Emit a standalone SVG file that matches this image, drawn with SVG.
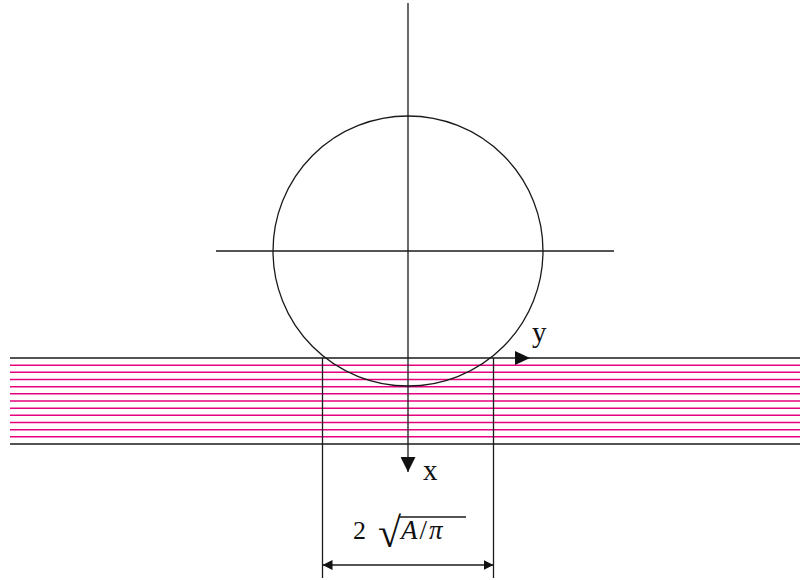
<svg xmlns="http://www.w3.org/2000/svg" width="800" height="580" viewBox="0 0 800 580">
<style>
.k{stroke:#1a1a1a;stroke-width:1.3;fill:none}
.m{stroke:#e6007e;stroke-width:1.5;fill:none}
.t{font-family:"Liberation Serif","DejaVu Serif",serif;font-size:29px;fill:#111}
.i{font-style:italic}
</style>
<defs>
<marker id="ah" viewBox="0 0 10 10" refX="10" refY="5" markerWidth="10" markerHeight="10" markerUnits="userSpaceOnUse" orient="auto-start-reverse">
<path d="M0,0 L10,5 L0,10 z" fill="#111"/>
</marker>
<marker id="big" viewBox="0 0 10 10" refX="10" refY="5" markerWidth="15" markerHeight="15" markerUnits="userSpaceOnUse" orient="auto">
<path d="M0,0 L10,5 L0,10 z" fill="#111"/>
</marker>
</defs>
<g id="strip">
<g class="m">
<line x1="10" y1="365.2" x2="800" y2="365.2"/>
<line x1="10" y1="372.3" x2="800" y2="372.3"/>
<line x1="10" y1="379.5" x2="800" y2="379.5"/>
<line x1="10" y1="386.7" x2="800" y2="386.7"/>
<line x1="10" y1="393.8" x2="800" y2="393.8"/>
<line x1="10" y1="401" x2="800" y2="401"/>
<line x1="10" y1="408.2" x2="800" y2="408.2"/>
<line x1="10" y1="415.3" x2="800" y2="415.3"/>
<line x1="10" y1="422.5" x2="800" y2="422.5"/>
<line x1="10" y1="429.7" x2="800" y2="429.7"/>
<line x1="10" y1="436.8" x2="800" y2="436.8"/>
</g>
<line class="k" x1="10" y1="444" x2="800" y2="444"/>
</g>
<g id="circle"><circle class="k" cx="408" cy="251" r="135"/></g>
<g id="connectors">
<line class="k" x1="408" y1="3" x2="408" y2="472" marker-end="url(#big)"/>
<line class="k" x1="216" y1="251" x2="614" y2="251"/>
<line class="k" x1="10" y1="358" x2="800" y2="358"/>
<path d="M515,351 L530,358 L515,365 z" fill="#111"/>
<line class="k" x1="322.5" y1="358" x2="322.5" y2="578"/>
<line class="k" x1="493.5" y1="358" x2="493.5" y2="578"/>
<line class="k" x1="322.5" y1="565" x2="493.5" y2="565" marker-start="url(#ah)" marker-end="url(#ah)"/>
</g>
<g id="labels">
<text class="t" x="532" y="342">y</text>
<text class="t" x="423" y="480">x</text>
<text class="t" x="353" y="539" style="font-size:26px">2</text>
<text class="t" x="378" y="547" style="font-size:42px">√</text>
<line class="k" x1="399" y1="517" x2="466" y2="517"/>
<text class="t" x="401" y="539" style="font-size:27px"><tspan class="i">A</tspan><tspan dx="2">/</tspan><tspan class="i" dx="2">π</tspan></text>
</g>
</svg>
